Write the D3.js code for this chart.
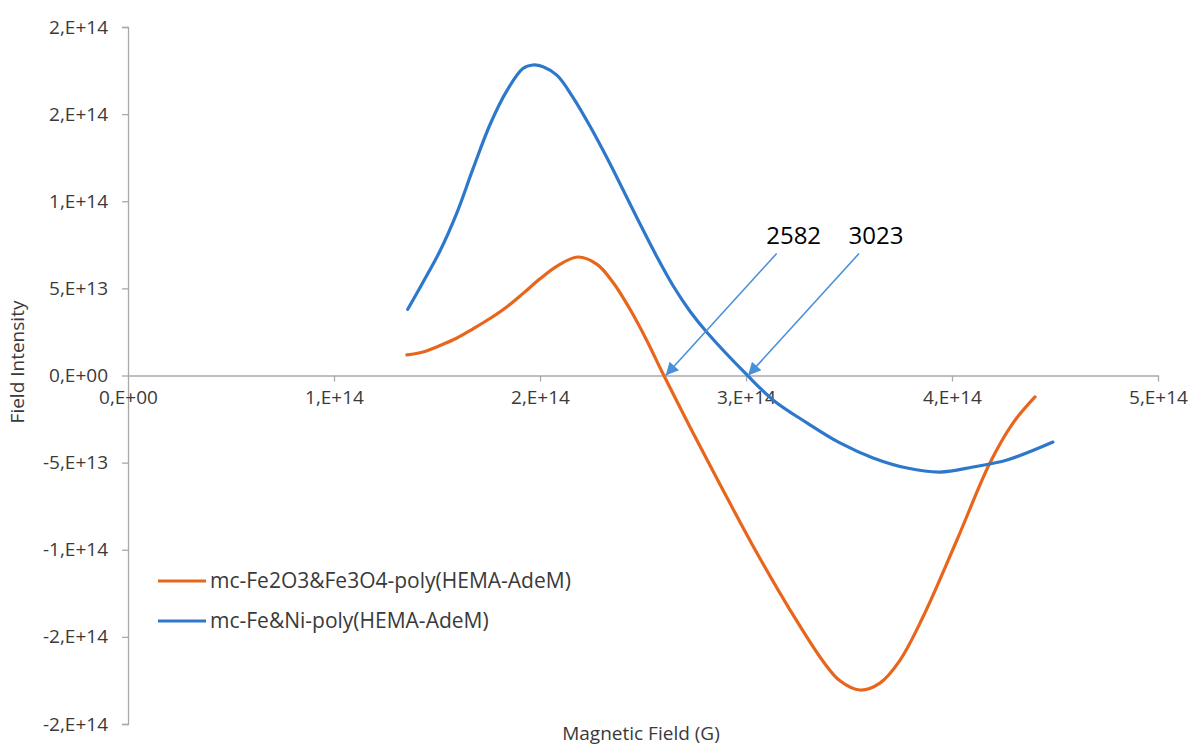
<!DOCTYPE html>
<html>
<head>
<meta charset="utf-8">
<script src="https://cdn.jsdelivr.net/npm/d3@7/dist/d3.min.js"></script>
<style>
  html, body { margin: 0; padding: 0; background: #fff; }
  svg { display: block; font-family: "Open Sans", "Noto Sans", sans-serif; }
</style>
</head>
<body>
<svg id="chart" width="1193" height="745"></svg>
<script>
// ---- data ----
const seriesNames = ["mc-Fe2O3&Fe3O4-poly(HEMA-AdeM)", "mc-Fe&Ni-poly(HEMA-AdeM)"];

const orangeX = [1.354e14,1.432e14,1.515e14,1.597e14,1.675e14,1.757e14,1.840e14,1.917e14,2.000e14,2.083e14,2.184e14,2.277e14,2.354e14,2.437e14,2.519e14,2.597e14,2.728e14,2.888e14,3.053e14,3.214e14,3.374e14,3.456e14,3.553e14,3.650e14,3.748e14,3.859e14,4.024e14,4.184e14,4.296e14,4.403e14];
const orangeY = [0.118e14,0.135e14,0.172e14,0.215e14,0.268e14,0.327e14,0.395e14,0.470e14,0.555e14,0.628e14,0.680e14,0.638e14,0.535e14,0.380e14,0.200e14,0.010e14,-0.295e14,-0.657e14,-1.019e14,-1.346e14,-1.640e14,-1.752e14,-1.805e14,-1.765e14,-1.633e14,-1.386e14,-0.944e14,-0.502e14,-0.273e14,-0.123e14];

const blueX = [1.358e14,1.432e14,1.515e14,1.597e14,1.675e14,1.757e14,1.840e14,1.917e14,1.966e14,2.015e14,2.083e14,2.160e14,2.243e14,2.325e14,2.403e14,2.485e14,2.568e14,2.646e14,2.728e14,2.811e14,3.005e14,3.131e14,3.296e14,3.456e14,3.617e14,3.782e14,3.942e14,4.102e14,4.267e14,4.490e14];
const blueY = [0.380e14,0.535e14,0.716e14,0.935e14,1.187e14,1.439e14,1.636e14,1.762e14,1.782e14,1.772e14,1.722e14,1.596e14,1.430e14,1.249e14,1.066e14,0.871e14,0.680e14,0.515e14,0.369e14,0.247e14,0.003e14,-0.140e14,-0.272e14,-0.387e14,-0.473e14,-0.531e14,-0.554e14,-0.525e14,-0.485e14,-0.382e14];

const xTickValues = [0, 1e14, 2e14, 3e14, 4e14, 5e14];
const xTickLabels = ["0,E+00", "1,E+14", "2,E+14", "3,E+14", "4,E+14", "5,E+14"];
const yTickValues = [2e14, 1.5e14, 1e14, 5e13, 0, -5e13, -1e14, -1.5e14, -2e14];
const yTickLabels = ["2,E+14", "2,E+14", "1,E+14", "5,E+13", "0,E+00", "-5,E+13", "-1,E+14", "-2,E+14", "-2,E+14"];

const annotationLabels = ["2582", "3023"];
const annotationTipX = [2.61e14, 3.01e14];
const annotationTipY = [0, 0];

const xTitle = "Magnetic Field (G)";
const yTitle = "Field Intensity";

// ---- layout ----
const colors = ["#e8661c", "#2e78cc"];
const arrowColor = "#4a90d8";
const axisColor = "#a9a9a9";
const textColor = "#3a3a3a";

const svg = d3.select("#chart");
const x = d3.scaleLinear().domain([0, 5e14]).range([128, 1158]);
const y = d3.scaleLinear().domain([-2e14, 2e14]).range([724, 27]);

// y axis
const yAxis = d3.axisLeft(y).tickValues(yTickValues)
  .tickFormat((d, i) => yTickLabels[i]).tickSize(6).tickPadding(14);
const gy = svg.append("g").attr("transform", `translate(${x(0)},0)`).call(yAxis);
gy.select(".domain").attr("stroke", axisColor).attr("stroke-width", 1.3);
gy.selectAll(".tick line").attr("stroke", axisColor).attr("stroke-width", 1.3);
gy.selectAll(".tick text").attr("fill", textColor).style("font-size", "19px")
  .style("font-family", "'Open Sans', sans-serif");

// x axis at y=0
const xAxis = d3.axisBottom(x).tickValues(xTickValues)
  .tickFormat((d, i) => xTickLabels[i]).tickSize(6).tickPadding(9).tickSizeOuter(0);
const gx = svg.append("g").attr("transform", `translate(0,${y(0)})`).call(xAxis);
gx.select(".domain").attr("stroke", axisColor).attr("stroke-width", 1.3);
gx.selectAll(".tick line").attr("stroke", axisColor).attr("stroke-width", 1.3);
gx.selectAll(".tick text").attr("fill", textColor).style("font-size", "19px")
  .style("font-family", "'Open Sans', sans-serif");
gx.selectAll(".tick").filter(d => d === 0).select("line").remove();

// series
const line = d3.line().x(d => x(d[0])).y(d => y(d[1])).curve(d3.curveCatmullRom.alpha(0.5));
const seriesData = [
  d3.zip(orangeX, orangeY),
  d3.zip(blueX, blueY)
];
seriesData.forEach((pts, i) => {
  svg.append("path").datum(pts).attr("d", line)
    .attr("fill", "none").attr("stroke", colors[i]).attr("stroke-width", 3.2)
    .attr("stroke-linejoin", "round").attr("stroke-linecap", "round");
});

// annotations with arrows
const defs = svg.append("defs");
defs.append("marker").attr("id", "arrowhead")
  .attr("viewBox", "0 0 10 10").attr("refX", 10).attr("refY", 5)
  .attr("markerWidth", 9).attr("markerHeight", 8).attr("markerUnits", "strokeWidth")
  .attr("orient", "auto")
  .append("path").attr("d", "M0,0 L10,5 L0,10 Z").attr("fill", arrowColor);

annotationLabels.forEach((lab, i) => {
  const tx = x(annotationTipX[i]), ty = y(annotationTipY[i]);
  const sx = tx + 111, sy = ty - 122;
  svg.append("line").attr("x1", sx).attr("y1", sy).attr("x2", tx).attr("y2", ty)
    .attr("stroke", arrowColor).attr("stroke-width", 1.6)
    .attr("marker-end", "url(#arrowhead)");
  svg.append("text").attr("x", sx + 17).attr("y", sy - 10)
    .attr("text-anchor", "middle").attr("fill", "#000")
    .style("font-size", "24px").text(lab);
});

// axis titles
svg.append("text").attr("x", 641).attr("y", 740).attr("text-anchor", "middle")
  .attr("fill", textColor).style("font-size", "19px").text(xTitle);
svg.append("text").attr("transform", "translate(24,362) rotate(-90)")
  .attr("text-anchor", "middle").attr("fill", textColor).style("font-size", "19px").text(yTitle);

// legend
seriesNames.forEach((name, i) => {
  const ly = 581 + i * 40;
  svg.append("line").attr("x1", 158).attr("x2", 206).attr("y1", ly).attr("y2", ly)
    .attr("stroke", colors[i]).attr("stroke-width", 3);
  svg.append("text").attr("x", 210).attr("y", ly).attr("dy", "0.35em")
    .attr("fill", textColor).style("font-size", "21px").text(name);
});
</script>
</body>
</html>
